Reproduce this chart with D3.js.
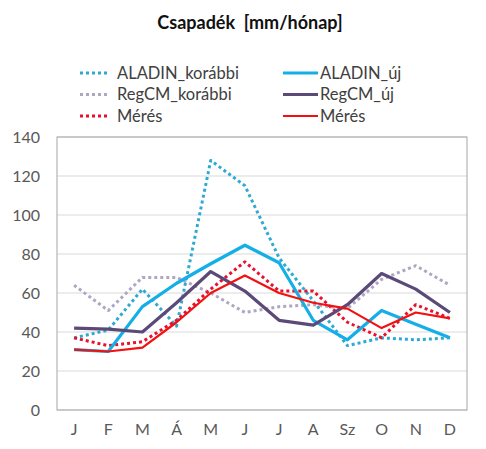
<!DOCTYPE html>
<html><head><meta charset="utf-8">
<script src="https://cdn.jsdelivr.net/npm/d3@7"></script>
<style>body{margin:0;background:#fff}svg{display:block}</style>
</head><body>
<svg id="c" width="486" height="449"></svg>
<script>
const months = ["J","F","M","Á","M","J","J","A","Sz","O","N","D"];
const yTicks = [0,20,40,60,80,100,120,140];
const aladinKorabbi = [37,41,62,43,128,115,78,56,33,37,36,37];
const regcmKorabbi  = [64,51,68,68,60,50,53,54,52,67,74,64];
const meresDotted   = [37,33,35,46,62,76,61,61,45,37,54,47];
const aladinUj      = [31,30,53,65,75,84.5,75.5,46,36,51,44,37];
const regcmUj       = [42,41.5,40,55,71,61,46,43.5,54,70,62,50];
const meresSolid    = [31,30,32,45,60,69,60,55,52,42,50,47];
const seriesNames = ["ALADIN_korábbi","RegCM_korábbi","Mérés","ALADIN_új","RegCM_új","Mérés"];

const series = [
  {name:seriesNames[0], values:aladinKorabbi, color:"#2EA9D2", dash:"3,3", w:3},
  {name:seriesNames[1], values:regcmKorabbi,  color:"#AFA6C4", dash:"3,3", w:3},
  {name:seriesNames[2], values:meresDotted,   color:"#E8112D", dash:"3,3", w:3},
  {name:seriesNames[3], values:aladinUj,      color:"#14AFE6", dash:null, w:3.2},
  {name:seriesNames[4], values:regcmUj,       color:"#5B4A78", dash:null, w:3.2},
  {name:seriesNames[5], values:meresSolid,    color:"#F21010", dash:null, w:2.2}
];
const drawOrder = [0,1,2,3,4,5];

const svg = d3.select("#c");
const font = "Lato, 'Open Sans', sans-serif";
const L=57, R=467, T=137, B=410;
const x = d3.scaleBand().domain(d3.range(12)).range([L,R]);
const y = d3.scaleLinear().domain([0,140]).range([B,T]);

svg.append("text").attr("x",250).attr("y",29).attr("text-anchor","middle")
  .attr("font-family",font).attr("font-weight","bold").attr("font-size",18).attr("fill","#111")
  .style("white-space","pre")
  .text("Csapadék  [mm/hónap]");

// gridlines
svg.append("g").selectAll("line").data(yTicks).join("line")
  .attr("x1",L).attr("x2",R).attr("y1",d=>y(d)).attr("y2",d=>y(d))
  .attr("stroke","#d9d9d9").attr("stroke-width",1);
svg.append("rect").attr("x",L).attr("y",T).attr("width",R-L).attr("height",B-T)
  .attr("fill","none").attr("stroke","#a6a6a6").attr("stroke-width",1);

// y axis
const ya = svg.append("g").attr("transform",`translate(${L-17},0)`)
  .call(d3.axisLeft(y).tickValues(yTicks).tickSize(0).tickPadding(0));
ya.select(".domain").remove();
ya.selectAll("text").attr("font-family",font).attr("font-size",16).attr("fill","#595959").attr("dy","0.35em");

// x axis
const xa = svg.append("g").attr("transform",`translate(0,${B+14})`)
  .call(d3.axisBottom(x).tickFormat(i=>months[i]).tickSize(0).tickPadding(0));
xa.select(".domain").remove();
xa.selectAll("text").attr("font-family",font).attr("font-size",16).attr("fill","#595959").attr("dy","0.71em");

const line = d3.line().x((d,i)=>x(i)+x.bandwidth()/2).y(d=>y(d));
drawOrder.forEach(k=>{
  const s=series[k];
  svg.append("path").datum(s.values).attr("d",line).attr("fill","none")
    .attr("stroke",s.color).attr("stroke-width",s.w)
    .attr("stroke-dasharray",s.dash).attr("stroke-linejoin","round");
});

// legend
const lg = svg.append("g");
series.forEach((s,k)=>{
  const col = k<3?0:1, row=k%3;
  const lx = col===0?80:283, lx2 = col===0?110:318, ty=73+row*21.5;
  lg.append("line").attr("x1",lx).attr("x2",lx2).attr("y1",ty).attr("y2",ty)
    .attr("stroke",s.color).attr("stroke-width",s.w).attr("stroke-dasharray",s.dash);
  lg.append("text").attr("x",lx2+(col===0?7:2)).attr("y",ty).attr("dy","0.35em")
    .attr("font-family",font).attr("font-size",16.5).attr("fill","#404040").text(s.name);
});
</script>
</body></html>
